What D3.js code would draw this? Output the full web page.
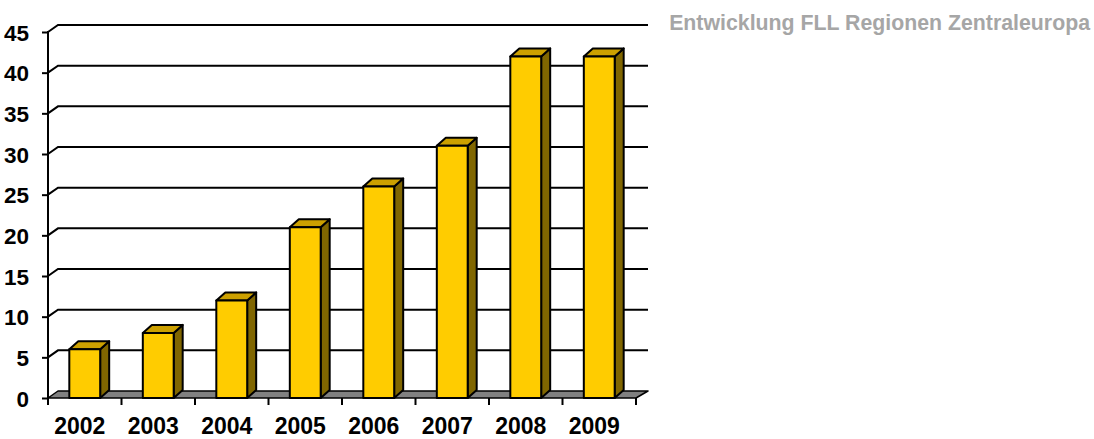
<!DOCTYPE html>
<html>
<head>
<meta charset="utf-8">
<script src="https://cdn.jsdelivr.net/npm/d3@7"></script>
<style>
  html, body { margin: 0; padding: 0; background: #fff; }
  svg { display: block; }
  text { font-family: "Liberation Sans", Arial, sans-serif; font-weight: bold; }
</style>
</head>
<body>
<svg id="chart" width="1094" height="439"></svg>
<script>
const title = "Entwicklung FLL Regionen Zentraleuropa";
const years = ["2002", "2003", "2004", "2005", "2006", "2007", "2008", "2009"];
const regions = [6, 8, 12, 21, 26, 31, 42, 42];
const yTicks = [0, 5, 10, 15, 20, 25, 30, 35, 40, 45];

const svg = d3.select("#chart");

const x = d3.scaleBand().domain(years).range([48, 636]).paddingInner(0).paddingOuter(0);
const y = d3.scaleLinear().domain([0, 45]).range([398, 32]);

const wallDx = 10, wallDy = -7, wallRight = 648;
const barDx = 9, barDy = -8;
const barW = x.bandwidth() * 0.42;
const barOff = (x.bandwidth() - barW) / 2;

const x0 = x.range()[0], x1 = x.range()[1];
const yBase = y(0);

// gridlines (back wall) with diagonal connector from the axis
svg.append("g").selectAll("path").data(yTicks.filter(v => v > 0)).join("path")
  .attr("d", v => `M${x0},${y(v)} L${x0 + wallDx},${y(v) + wallDy} L${wallRight},${y(v) + wallDy}`)
  .attr("fill", "none").attr("stroke", "#000").attr("stroke-width", 2);

// floor
svg.append("path")
  .attr("d", `M${x0},${yBase} L${x1},${yBase} L${wallRight},${yBase + wallDy} L${x0 + wallDx},${yBase + wallDy} Z`)
  .attr("fill", "#808080").attr("stroke", "#000").attr("stroke-width", 1.5).attr("stroke-linejoin", "round");

// bars
const bars = svg.append("g").selectAll("g").data(years.map((yr, i) => ({yr, v: regions[i]}))).join("g");
bars.each(function(d) {
  const g = d3.select(this);
  const l = x(d.yr) + barOff, r = l + barW, t = y(d.v), b = yBase;
  g.append("path")
    .attr("d", `M${r},${t} L${r + barDx},${t + barDy} L${r + barDx},${b + barDy} L${r},${b} Z`)
    .attr("fill", "#806600");
  g.append("path")
    .attr("d", `M${l},${t} L${l + barDx},${t + barDy} L${r + barDx},${t + barDy} L${r},${t} Z`)
    .attr("fill", "#CCA000");
  g.append("rect").attr("x", l).attr("y", t).attr("width", barW).attr("height", b - t)
    .attr("fill", "#FFCC00");
  g.selectAll("path,rect").attr("stroke", "#000").attr("stroke-width", 2).attr("stroke-linejoin", "round");
});

// y axis
const yAxis = svg.append("g").attr("transform", `translate(${x0},0)`)
  .call(d3.axisLeft(y).tickValues(yTicks).tickSizeInner(6).tickSizeOuter(0).tickPadding(13));
yAxis.select(".domain").remove();
yAxis.selectAll(".tick line").attr("stroke", "#000").attr("stroke-width", 2);
yAxis.selectAll(".tick text").attr("font-size", 22.5).attr("fill", "#000")
  .attr("dy", null).attr("y", 8);
svg.append("line").attr("x1", x0).attr("x2", x0).attr("y1", y(45) - 1).attr("y2", yBase + 7)
  .attr("stroke", "#000").attr("stroke-width", 2);

// x axis ticks at category boundaries
const bounds = years.map(d => x(d)).concat([x1]);
svg.append("g").selectAll("line").data(bounds).join("line")
  .attr("x1", d => d).attr("x2", d => d).attr("y1", yBase).attr("y2", yBase + 7)
  .attr("stroke", "#000").attr("stroke-width", 2);

// x labels
const xAxis = svg.append("g").attr("transform", `translate(-5,${yBase})`)
  .call(d3.axisBottom(x).tickSize(0).tickPadding(0));
xAxis.select(".domain").remove();
xAxis.selectAll(".tick text").attr("font-size", 23).attr("fill", "#000").attr("dy", null).attr("y", 36);

// title
svg.append("text").attr("x", 1090).attr("y", 30).attr("text-anchor", "end")
  .attr("font-size", 21.3).attr("fill", "#A6A6A6").text(title);
</script>
</body>
</html>
